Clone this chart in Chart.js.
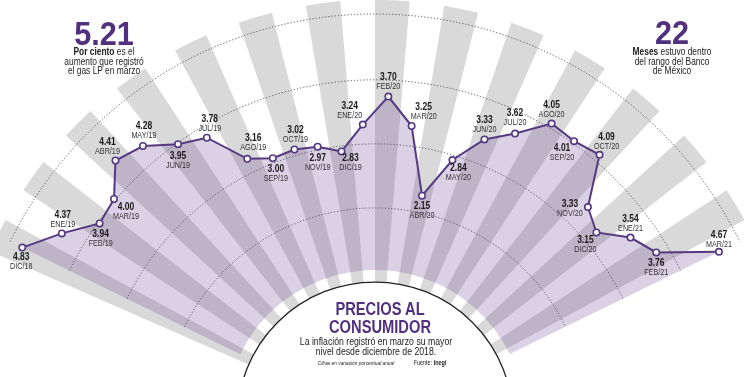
<!DOCTYPE html>
<html><head><meta charset="utf-8">
<script src="https://cdn.jsdelivr.net/npm/chart.js@4.4.1/dist/chart.umd.min.js"></script>
<style>
html,body{margin:0;padding:0;background:#fff;overflow:hidden;}
#wrap{position:relative;width:750px;height:377px;overflow:hidden;}
#c{position:absolute;left:0;top:0;}
.t{position:absolute;font-family:"Liberation Sans",Arial,sans-serif;color:#222;text-align:center;white-space:nowrap;transform-origin:50% 50%;}
.big{font-weight:700;color:#50307f;font-size:34px;line-height:34px;transform:scaleX(0.9);}
.sub{font-size:10.5px;line-height:9.7px;transform:scaleX(0.8);}
</style></head><body>
<div id="wrap">
<canvas id="c" width="750" height="840"></canvas>
<div class="t big" style="left:54px;top:16px;width:100px;">5.21</div>
<div class="t sub" style="left:44px;top:47px;width:120px;"><b>Por ciento</b> es el<br>aumento que registró<br>el gas LP en marzo</div>
<div class="t big" style="left:622px;top:15px;width:100px;">22</div>
<div class="t sub" style="left:612px;top:47px;width:120px;"><b>Meses</b> estuvo dentro<br>del rango del Banco<br>de México</div>
<div class="t" style="left:230px;top:300px;width:300px;font-size:18.6px;line-height:17.8px;font-weight:700;color:#50307f;transform:scaleX(0.79);">PRECIOS AL<br>CONSUMIDOR</div>
<div class="t" style="left:226px;top:337px;width:300px;font-size:10px;line-height:9.5px;transform:scaleX(0.87);">La inflación registró en marzo su mayor<br>nivel desde diciembre de 2018.</div>
<div class="t" style="left:296px;top:360px;width:120px;font-size:6px;line-height:6px;font-style:italic;transform:scaleX(0.8);">Cifras en variación porcentual anual</div>
<div class="t" style="left:400px;top:360px;width:60px;font-size:6.4px;line-height:6px;transform:scaleX(0.85);">Fuente: <b>Inegi</b></div>
</div>
<script>
// ---- data ----
const months = ['DIC/18','ENE/19','FEB/19','MAR/19','ABR/19','MAY/19','JUN/19','JUL/19','AGO/19','SEP/19','OCT/19','NOV/19','DIC/19',
  'ENE/20','FEB/20','MAR/20','ABR/20','MAY/20','JUN/20','JUL/20','AGO/20','SEP/20','OCT/20','NOV/20','DIC/20','ENE/21','FEB/21','MAR/21'];
const inflation = [4.83,4.37,3.94,4.00,4.41,4.28,3.95,3.78,3.16,3.00,3.02,2.97,2.83,
  3.24,3.70,3.25,2.15,2.84,3.33,3.62,4.05,4.01,4.09,3.33,3.15,3.54,3.76,4.67];
const emptySlots = 48;           // unused spokes so the 28 months cover only a fan
// label offsets (value line centre relative to the point)
const labelDx = [-1,1,1,12,-8,1,0,3,6,3,1,0,9,-13,0,12,0,6,0,0,0,-12,7,-18,-11,0,0,0];
const labelDy = [10,-18,11,8.5,-18,-19.5,12,-18.5,-20.5,10.7,-19,11,7,-18.4,-19.4,-18.6,10.7,8.3,-19,-20.4,-18.3,7.3,-17.7,-3.3,7.3,-18.7,11,-17];

// ---- scale geometry values ----
const R_MIN = -1.607, R_MAX = 4.541;
const DISC_VALUE = 0.655, FILL_BASE = 0.852, WEDGE_OUTER = 5.28;
const RINGS = [1.87, 2.92, 3.97, 5.05];
const PURPLE = '#553a80';

const labels = months.concat(new Array(emptySlots).fill(''));
const values = inflation.concat(new Array(emptySlots).fill(null));

function squeezedText(ctx, text, x, y, sx) {
  ctx.save();
  ctx.translate(x, y);
  ctx.scale(sx, 1);
  ctx.fillText(text, 0, 0);
  ctx.restore();
}

const fanPlugin = {
  id: 'fan',
  beforeDraw(chart) {
    const s = chart.scales.r, ctx = chart.ctx;
    const cx = s.xCenter, cy = s.yCenter, step = 2 * Math.PI / chart.data.labels.length;
    const rOut = s.getDistanceFromCenterForValue(WEDGE_OUTER);
    ctx.save();
    for (let i = 0; i < months.length; i++) {
      if (i % 2) continue;
      const a = s.getIndexAngle(i) - Math.PI / 2;
      ctx.beginPath();
      ctx.moveTo(cx, cy);
      ctx.arc(cx, cy, rOut, a - step / 2, a + step / 2, false);
      ctx.closePath();
      ctx.fillStyle = '#d9d9d9';
      ctx.fill();
    }
    const rd = s.getDistanceFromCenterForValue(DISC_VALUE);
    ctx.beginPath();
    ctx.arc(cx, cy, rd, 0, Math.PI * 2);
    ctx.fillStyle = '#fff';
    ctx.fill();
    ctx.lineWidth = 1.3;
    ctx.strokeStyle = '#222';
    ctx.stroke();
    ctx.restore();
  },
  beforeDatasetsDraw(chart) {
    const s = chart.scales.r, ctx = chart.ctx;
    const a0 = s.getIndexAngle(0) - Math.PI / 2;
    const a1 = s.getIndexAngle(months.length - 1) - Math.PI / 2;
    ctx.save();
    ctx.setLineDash([1.2, 2]);
    ctx.lineWidth = 0.9;
    ctx.strokeStyle = '#444';
    RINGS.forEach(v => {
      ctx.beginPath();
      ctx.arc(s.xCenter, s.yCenter, s.getDistanceFromCenterForValue(v), a0, a1, false);
      ctx.stroke();
    });
    ctx.restore();
  },
  afterDatasetsDraw(chart) {
    const ctx = chart.ctx, meta = chart.getDatasetMeta(0);
    ctx.save();
    ctx.textAlign = 'center';
    ctx.textBaseline = 'middle';
    months.forEach((m, i) => {
      const p = meta.data[i];
      const x = p.x + labelDx[i], y = p.y + labelDy[i];
      ctx.fillStyle = '#1a1a1a';
      ctx.font = 'bold 10px "Liberation Sans", Arial, sans-serif';
      squeezedText(ctx, inflation[i].toFixed(2), x, y, 0.85);
      ctx.fillStyle = '#333';
      ctx.font = '9px "Liberation Sans", Arial, sans-serif';
      squeezedText(ctx, m, x, y + 9.4, 0.8);
    });
    ctx.restore();
  }
};

new Chart(document.getElementById('c'), {
  type: 'radar',
  data: {
    labels: labels,
    datasets: [{
      data: values,
      borderColor: PURPLE,
      borderWidth: 2,
      backgroundColor: 'rgba(110,70,150,0.25)',
      fill: { value: FILL_BASE },
      spanGaps: false,
      tension: 0,
      pointRadius: 3.2,
      pointBorderWidth: 1.6,
      pointBackgroundColor: '#fff',
      pointBorderColor: PURPLE
    }]
  },
  options: {
    responsive: false,
    animation: false,
    layout: { padding: 0 },
    plugins: { legend: { display: false }, tooltip: { enabled: false } },
    scales: {
      r: {
        min: R_MIN, max: R_MAX,
        startAngle: -63.95,
        ticks: { display: false },
        pointLabels: { display: false },
        angleLines: { display: false },
        grid: { display: false, circular: true }
      }
    }
  },
  plugins: [fanPlugin]
});
</script>
</body></html>
